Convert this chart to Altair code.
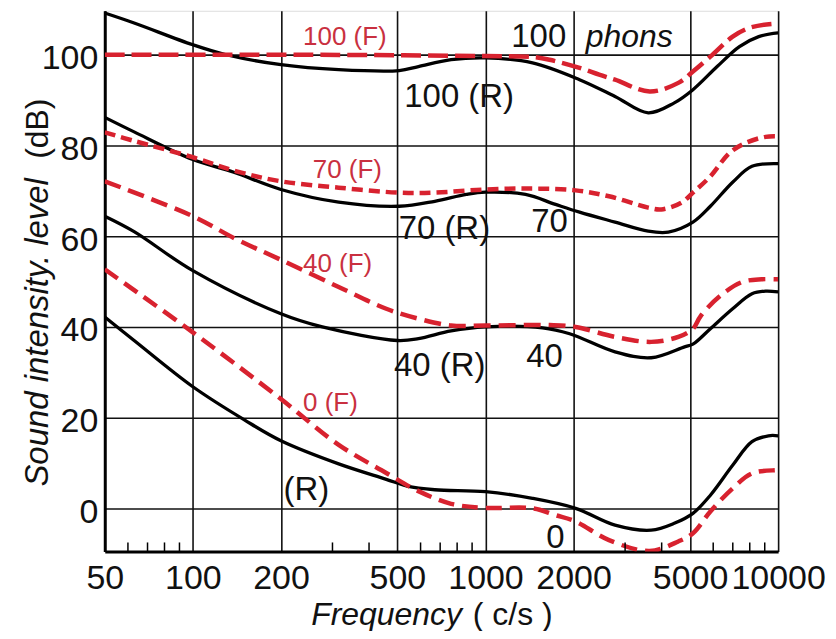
import altair as alt
import pandas as pd

# ---------------- data ----------------
FREQ_TICKS = [50, 100, 200, 500, 1000, 2000, 5000, 10000]
DB_TICKS = [0, 20, 40, 60, 80, 100]
MINOR_TICKS = [60, 70, 80, 90, 300, 400, 600, 700, 800, 900, 3000, 4000, 6000, 7000, 8000, 9000]

# Real (R) contours - solid black
R100_F = [50, 63, 100, 130, 200, 315, 507, 590, 763, 1000, 1448, 2096, 2771, 3597, 4417, 5116, 6189, 7375, 8585, 10000]
R100_DB = [109.2, 107, 102.2, 100, 97.8, 96.7, 96.5, 97.4, 98.9, 99.3, 98.2, 94.5, 90.8, 87.2, 89.4, 92.3, 97.4, 101.8, 104, 104.8]

R70_F = [50, 63, 100, 138, 200, 315, 507, 671, 860, 1000, 1370, 1735, 2096, 2771, 3597, 4214, 5116, 5868, 6992, 8141, 10000]
R70_DB = [86.2, 83, 76.9, 74.1, 70.3, 67.5, 66.6, 67.7, 69.2, 69.7, 69.2, 67, 65.3, 63.1, 61.1, 60.9, 63.1, 66.6, 71.9, 75.4, 76]

R40_F = [50, 63, 100, 200, 277, 500, 590, 763, 1000, 1567, 1939, 2771, 3683, 4790, 5116, 5868, 6992, 8141, 9057, 10000]
R40_DB = [64.4, 61, 52.4, 42.9, 40, 37, 37.4, 39.1, 40, 39.8, 38.5, 34.5, 33.2, 35.6, 36.2, 39.6, 44, 47.3, 47.9, 47.7]

R0_F = [50, 63, 100, 150, 200, 315, 458, 540, 671, 1000, 1448, 2032, 2771, 3683, 4417, 5116, 5868, 6992, 8141, 9266, 10000]
R0_DB = [42.2, 37.0, 26.8, 19.5, 14.9, 9.8, 6.4, 4.9, 4.1, 3.7, 2.2, 0, -3.7, -4.8, -3.3, -1.1, 2.9, 9.5, 14.7, 16, 16]

# Free-field (F) contours - red dashed
F100_F = [50, 200, 500, 1000, 1448, 1655, 2096, 2446, 2771, 3640, 4560, 5116, 5868, 6992, 7957, 9480, 10000]
F100_DB = [100, 100, 99.9, 99.7, 99.5, 98.9, 97.1, 95.6, 94.5, 91.9, 93.8, 96.3, 99.6, 104, 105.9, 106.8, 106.8]

F70_F = [50, 63, 100, 141, 200, 315, 507, 671, 1000, 1448, 2032, 2643, 3597, 3988, 4674, 5116, 5868, 6834, 7777, 9057, 10000]
F70_DB = [82.9, 81, 77.4, 74.3, 72.1, 70.7, 69.6, 69.6, 70.3, 70.5, 70.1, 68.8, 66.3, 65.9, 67.4, 69.6, 73.2, 78.4, 80.6, 81.9, 82]

F40_F = [50, 100, 141, 200, 315, 458, 590, 763, 1000, 1655, 2032, 2771, 3683, 4560, 5116, 5436, 6332, 7542, 8785, 10000]
F40_DB = [72.1, 64.4, 59.3, 54.8, 48.8, 44, 41.8, 40.3, 40.3, 40.4, 40, 37.8, 36.7, 37.8, 39.6, 42.4, 46.8, 49.9, 50.5, 50.5]

F0_F = [50, 100, 200, 315, 458, 590, 763, 1000, 1448, 1735, 2032, 2643, 3640, 4560, 5116, 5868, 6992, 8141, 9772, 10000]
F0_DB = [52.7, 38.8, 24.1, 14.0, 7.8, 3.8, 1.0, 0.1, 0, -1.5, -2.9, -7, -9.4, -7.3, -5.5, -0.7, 4.4, 7.7, 8.4, 8.4]

# Curve labels (text, freq at left edge, dB at baseline)
RED_LABELS = ["100 (F)", "70 (F)", "40 (F)", "0 (F)"]
RED_LABEL_F = [238, 257, 238, 238]
RED_LABEL_DB = [102.1, 72.9, 52.0, 21.5]

BLACK_LABELS = ["100", "100 (R)", "70 (R)", "70", "40 (R)", "40", "(R)", "0"]
BLACK_LABEL_F = [1225, 528, 505, 1433, 487, 1377, 204, 1612]
BLACK_LABEL_DB = [101.6, 88.5, 59.3, 61.0, 29.2, 31.2, 1.8, -8.8]

ITALIC_LABELS = ["phons"]
ITALIC_LABEL_F = [2200]
ITALIC_LABEL_DB = [101.6]

# ---------------- build tables ----------------
r_rows = []
for name, fs, ds in [("R100", R100_F, R100_DB), ("R70", R70_F, R70_DB),
                     ("R40", R40_F, R40_DB), ("R0", R0_F, R0_DB)]:
    for f, d in zip(fs, ds):
        r_rows.append({"freq": f, "db": d, "curve": name})
f_rows = []
for name, fs, ds in [("F100", F100_F, F100_DB), ("F70", F70_F, F70_DB),
                     ("F40", F40_F, F40_DB), ("F0", F0_F, F0_DB)]:
    for f, d in zip(fs, ds):
        f_rows.append({"freq": f, "db": d, "curve": name})

r_df = pd.DataFrame(r_rows)
f_df = pd.DataFrame(f_rows)
red_lab = pd.DataFrame({"t": RED_LABELS, "freq": RED_LABEL_F, "db": RED_LABEL_DB})
blk_lab = pd.DataFrame({"t": BLACK_LABELS, "freq": BLACK_LABEL_F, "db": BLACK_LABEL_DB})
ita_lab = pd.DataFrame({"t": ITALIC_LABELS, "freq": ITALIC_LABEL_F, "db": ITALIC_LABEL_DB})
minor_df = pd.DataFrame({"freq": MINOR_TICKS})

FONT = "Liberation Sans"
W, H = 675, 542

xscale = alt.Scale(type="log", domain=[50, 10000], nice=False)
yscale = alt.Scale(domain=[-9.5, 109.7], nice=False, zero=False)

x_axis = alt.Axis(values=FREQ_TICKS, format="d", title=None, labelFont=FONT,
                  labelFontSize=34, labelColor="#111", labelPadding=10, labelFlush=False,
                  ticks=False, grid=True, gridColor="#111", gridWidth=1.6,
                  domain=True, domainColor="#000", domainWidth=3)
y_axis = alt.Axis(values=DB_TICKS, title=None, labelFont=FONT, labelFontSize=34,
                  labelColor="#111", labelPadding=7, labelOffset=4, ticks=False, grid=True,
                  gridColor="#111", gridWidth=1.6, domain=True, domainColor="#000",
                  domainWidth=3)

base_x = alt.X("freq:Q", scale=xscale, axis=x_axis)
base_y = alt.Y("db:Q", scale=yscale, axis=y_axis)

r_lines = alt.Chart(r_df).mark_line(color="#000", strokeWidth=3.3,
                                    interpolate="catmull-rom", clip=True).encode(
    x=base_x, y=base_y, detail="curve:N")

f_lines = alt.Chart(f_df).mark_line(color="#d8222f", strokeWidth=4.5,
                                    interpolate="catmull-rom", clip=True).encode(
    x=alt.X("freq:Q", scale=xscale),
    y=alt.Y("db:Q", scale=yscale),
    strokeDash=alt.StrokeDash("curve:N",
                              scale=alt.Scale(domain=["F100", "F70", "F40", "F0"],
                                              range=[[20, 7], [11, 6], [17, 8], [16, 8]]),
                              legend=None))

minor = alt.Chart(minor_df).mark_rule(color="#000", strokeWidth=1.5).encode(
    x=alt.X("freq:Q", scale=xscale), y=alt.value(H), y2=alt.value(H - 9))

red_text = alt.Chart(red_lab).mark_text(font=FONT, fontSize=26, color="#c93040",
                                        align="left", baseline="alphabetic").encode(
    x=alt.X("freq:Q", scale=xscale), y=alt.Y("db:Q", scale=yscale), text="t:N")

blk_text = alt.Chart(blk_lab).mark_text(font=FONT, fontSize=33, color="#111",
                                        align="left", baseline="alphabetic").encode(
    x=alt.X("freq:Q", scale=xscale), y=alt.Y("db:Q", scale=yscale), text="t:N")

ita_text = alt.Chart(ita_lab).mark_text(font=FONT, fontSize=32, fontStyle="italic",
                                        color="#111", align="left",
                                        baseline="alphabetic").encode(
    x=alt.X("freq:Q", scale=xscale), y=alt.Y("db:Q", scale=yscale), text="t:N")

# axis titles with mixed styles
title_df = pd.DataFrame({"a": ["Sound intensity. level"], "b": ["(dB)"],
                         "c": ["Frequency"], "d": ["( c/s )"]})
ytitle_a = alt.Chart(title_df).mark_text(font=FONT, fontSize=33, fontStyle="italic",
                                         color="#111", angle=270, align="left",
                                         baseline="alphabetic").encode(
    text="a:N", x=alt.value(-57), y=alt.value(477))
ytitle_b = alt.Chart(title_df).mark_text(font=FONT, fontSize=32, color="#111",
                                         angle=270, align="right",
                                         baseline="alphabetic").encode(
    text="b:N", x=alt.value(-57), y=alt.value(88))
xtitle_c = alt.Chart(title_df).mark_text(font=FONT, fontSize=32, fontStyle="italic",
                                         color="#111", align="left",
                                         baseline="alphabetic").encode(
    text="c:N", x=alt.value(207), y=alt.value(616))
xtitle_d = alt.Chart(title_df).mark_text(font=FONT, fontSize=32, color="#111",
                                         align="left", baseline="alphabetic").encode(
    text="d:N", x=alt.value(369), y=alt.value(616))

chart = alt.layer(r_lines, f_lines, minor, red_text, blk_text, ita_text,
                  ytitle_a, ytitle_b, xtitle_c, xtitle_d).properties(
    width=W, height=H,
    autosize=alt.AutoSizeParams(type="none"),
    padding={"left": 97, "top": 2, "right": 50, "bottom": 79},
).configure_view(stroke="#000", strokeWidth=2).configure(background="white")

chart.save("out.html", embed_options={"renderer": "svg", "actions": False})
